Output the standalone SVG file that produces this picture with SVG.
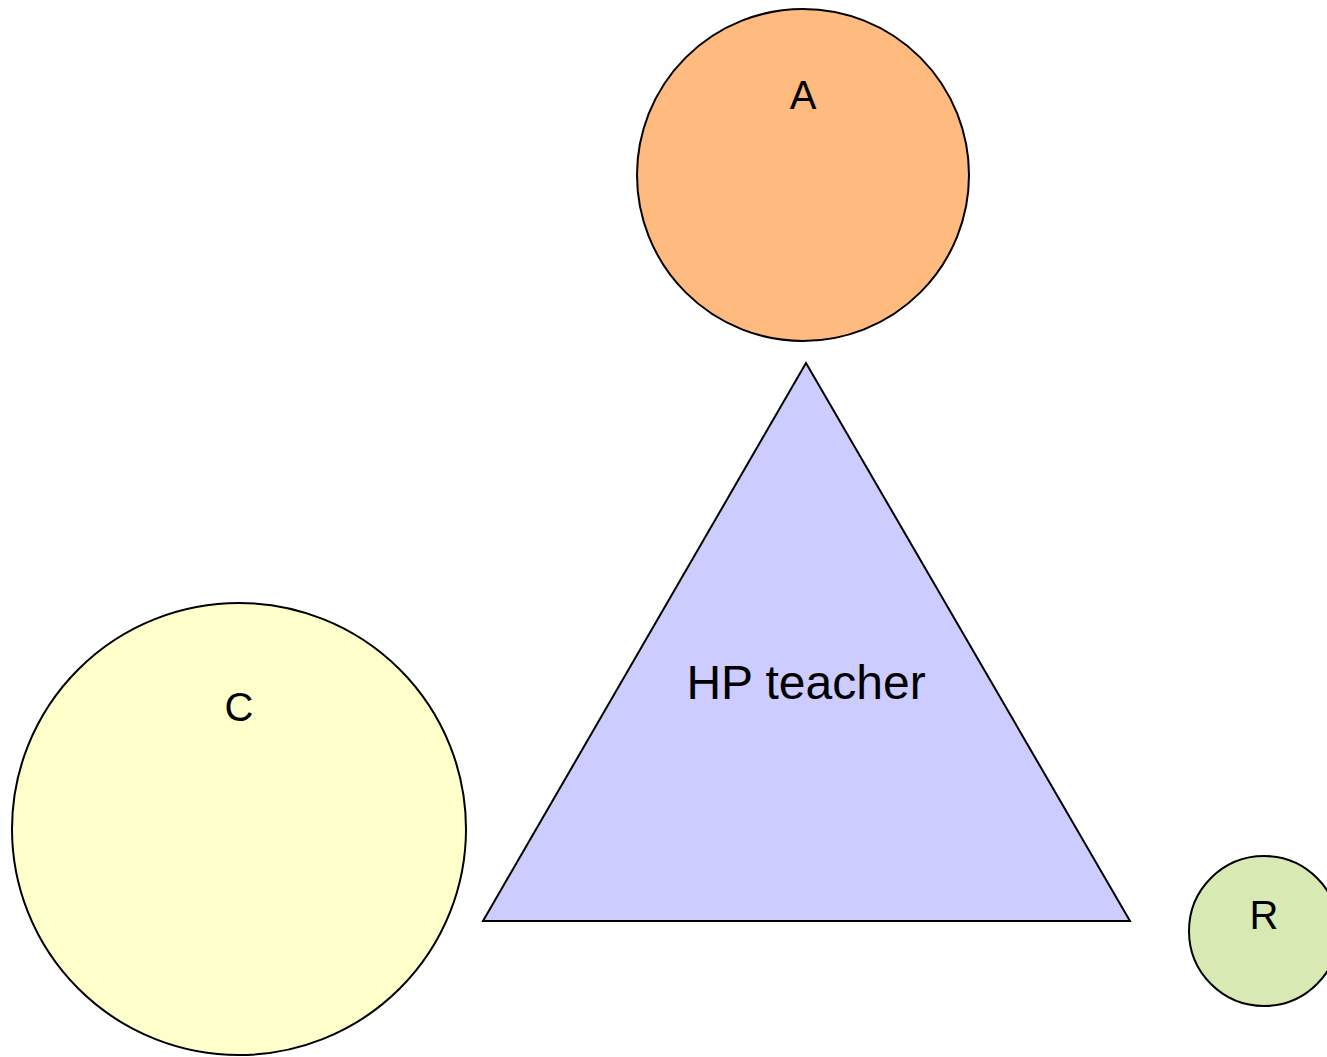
<svg xmlns="http://www.w3.org/2000/svg" width="1327" height="1057" viewBox="0 0 1327 1057">
<style>
.s{stroke:#000;stroke-width:2}
text{font-family:"Liberation Sans",Arial,sans-serif;fill:#000;text-anchor:middle}
.l{font-size:40px}
</style>
<rect width="1327" height="1057" fill="#fff"/>
<g id="A"><ellipse class="s" cx="803" cy="175" rx="166" ry="166" fill="#ffbb7f"/><text class="l" x="803" y="109">A</text></g>
<g id="HP"><polygon class="s" points="806,363 483,921 1130,921" fill="#ccccff"/><text x="806" y="699" font-size="48">HP teacher</text></g>
<g id="C"><ellipse class="s" cx="239" cy="829" rx="227" ry="226" fill="#ffffcc"/><text class="l" x="239" y="721">C</text></g>
<g id="R"><ellipse class="s" cx="1264" cy="931" rx="75" ry="75" fill="#d8e9b3"/><text class="l" x="1264" y="929">R</text></g>
<g id="connectors"></g>
</svg>
